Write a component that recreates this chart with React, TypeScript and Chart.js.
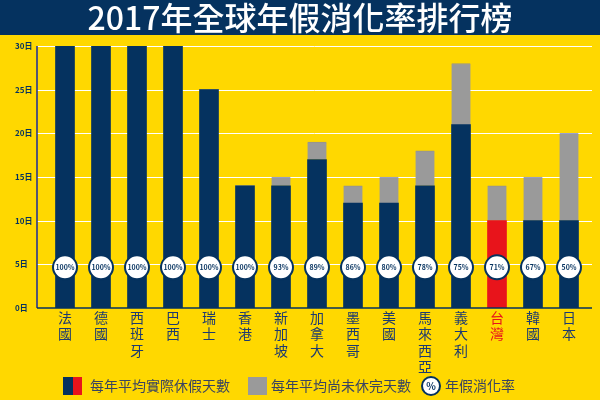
import React, { useEffect, useRef } from "react";
import { Chart, registerables } from "chart.js";

Chart.register(...registerables);

const titleText = "2017年全球年假消化率排行榜";
const categories = ["法國", "德國", "西班牙", "巴西", "瑞士", "香港", "新加坡", "加拿大", "墨西哥", "美國", "馬來西亞", "義大利", "台灣", "韓國", "日本"];
const actualDays = [30, 30, 30, 30, 25, 14, 14, 17, 12, 12, 14, 21, 10, 10, 10];
const totalDays = [30, 30, 30, 30, 25, 14, 15, 19, 14, 15, 18, 28, 14, 15, 20];
const usageRates = [100, 100, 100, 100, 100, 100, 93, 89, 86, 80, 78, 75, 71, 67, 50];
const highlightCategory = "台灣";
const yMax = 30;
const yStep = 5;
const tickSuffix = "日";
const legendLabels = ["每年平均實際休假天數", "每年平均尚未休完天數", "年假消化率"];
const rateMarkerValue = 5;

const NAVY = "#05325f";
const YELLOW = "#ffd800";
const GRAY = "#9a9a9a";
const RED = "#e8141b";
const FONT = '"Noto Sans CJK TC", "Noto Sans", sans-serif';
const AXIS_LEFT = 37;
const AXIS_RIGHT = 592;

export default function App() {
  const ref = useRef<HTMLCanvasElement | null>(null);

  useEffect(() => {
    document.body.style.margin = "0";
    const canvas = ref.current!;
    const unusedDays = totalDays.map((t, i) => t - actualDays[i]);

    const bgPlugin = {
      id: "bg",
      beforeDraw(chart: any) {
        const ctx = chart.ctx;
        ctx.save();
        ctx.fillStyle = YELLOW;
        ctx.fillRect(0, 0, chart.width, chart.height);
        ctx.fillStyle = NAVY;
        ctx.fillRect(0, 0, chart.width, 35);
        ctx.fillStyle = "#ffffff";
        ctx.font = `500 32px ${FONT}`;
        ctx.textAlign = "center";
        ctx.textBaseline = "middle";
        ctx.fillText(titleText, chart.width / 2, 18);
        ctx.restore();
      },
      beforeDatasetsDraw(chart: any) {
        const ctx = chart.ctx;
        const ys = chart.scales.y;
        ctx.save();
        ctx.strokeStyle = "#ffffff";
        ctx.lineWidth = 1;
        for (let v = yStep; v <= yMax; v += yStep) {
          const y = Math.round(ys.getPixelForValue(v)) + 0.5;
          ctx.beginPath();
          ctx.moveTo(AXIS_LEFT, y);
          ctx.lineTo(AXIS_RIGHT, y);
          ctx.stroke();
        }
        ctx.restore();
      },
    };

    const overlayPlugin = {
      id: "overlay",
      afterDatasetsDraw(chart: any) {
        const ctx = chart.ctx;
        const xs = chart.scales.x;
        const ys = chart.scales.y;
        ctx.save();
        const y0 = ys.getPixelForValue(0);
        const yTop = ys.getPixelForValue(yMax);
        ctx.lineWidth = 1.5;
        ctx.strokeStyle = "#1b2a9a";
        ctx.beginPath();
        ctx.moveTo(AXIS_LEFT, yTop);
        ctx.lineTo(AXIS_LEFT, y0);
        ctx.stroke();
        ctx.strokeStyle = NAVY;
        ctx.beginPath();
        ctx.moveTo(AXIS_LEFT, y0);
        ctx.lineTo(AXIS_RIGHT, y0);
        ctx.stroke();

        const cy = ys.getPixelForValue(rateMarkerValue) + 3;
        usageRates.forEach((r, i) => {
          const cx = xs.getPixelForValue(i);
          ctx.beginPath();
          ctx.arc(cx, cy, 12, 0, Math.PI * 2);
          ctx.fillStyle = "#ffffff";
          ctx.fill();
          ctx.lineWidth = 2;
          ctx.strokeStyle = NAVY;
          ctx.stroke();
          ctx.fillStyle = NAVY;
          ctx.font = `bold 7px ${FONT}`;
          ctx.textAlign = "center";
          ctx.textBaseline = "middle";
          ctx.fillText(r + "%", cx, cy + 0.5);
        });
        ctx.restore();
      },
      afterDraw(chart: any) {
        const ctx = chart.ctx;
        ctx.save();
        const y = 386;
        ctx.font = `14px ${FONT}`;
        ctx.textBaseline = "middle";
        ctx.textAlign = "left";
        ctx.fillStyle = NAVY;
        ctx.fillRect(63, y - 9, 10, 18);
        ctx.fillStyle = RED;
        ctx.fillRect(73, y - 9, 9, 18);
        ctx.fillStyle = "#3a4460";
        ctx.fillText(legendLabels[0], 90, y);
        ctx.fillStyle = GRAY;
        ctx.fillRect(248, y - 9, 19, 18);
        ctx.fillStyle = "#3a4460";
        ctx.fillText(legendLabels[1], 271, y);
        ctx.beginPath();
        ctx.arc(431, y, 9, 0, Math.PI * 2);
        ctx.fillStyle = "#ffffff";
        ctx.fill();
        ctx.lineWidth = 2;
        ctx.strokeStyle = NAVY;
        ctx.stroke();
        ctx.fillStyle = NAVY;
        ctx.font = `bold 10px ${FONT}`;
        ctx.textAlign = "center";
        ctx.fillText("%", 431, y + 0.5);
        ctx.font = `14px ${FONT}`;
        ctx.textAlign = "left";
        ctx.fillStyle = "#3a4460";
        ctx.fillText(legendLabels[2], 445, y);
        ctx.restore();
      },
    };

    const chart = new Chart(canvas, {
      type: "bar",
      data: {
        labels: categories.map((c) => c.split("")),
        datasets: [
          {
            label: legendLabels[0],
            data: actualDays,
            backgroundColor: categories.map((c) => (c === highlightCategory ? RED : NAVY)),
            barThickness: 19,
          },
          {
            label: legendLabels[1],
            data: unusedDays,
            backgroundColor: GRAY,
            borderColor: "rgba(110,120,190,0.7)",
            borderWidth: { top: 1, left: 0, right: 0, bottom: 0 },
            barThickness: 19,
          },
        ],
      },
      options: {
        responsive: false,
        animation: false,
        layout: { padding: { top: 46, right: 13, left: 15, bottom: 0 } },
        plugins: { legend: { display: false }, tooltip: { enabled: false }, title: { display: false } },
        scales: {
          x: {
            stacked: true,
            grid: { display: false },
            border: { display: false },
            ticks: {
              autoSkip: false,
              maxRotation: 0,
              padding: -6,
              font: { family: FONT, size: 14, lineHeight: 1.15 },
              color: (ctx: any) => (categories[ctx.index] === highlightCategory ? RED : "#1d3a70"),
            },
            afterFit(scale: any) {
              scale.height = 92;
            },
          },
          y: {
            stacked: true,
            min: 0,
            max: yMax,
            grid: { display: false },
            border: { display: false },
            ticks: {
              stepSize: yStep,
              crossAlign: "far",
              padding: 4,
              color: NAVY,
              font: { family: FONT, size: 8, weight: "bold" },
              callback: (v: any) => v + tickSuffix,
            },
            afterFit(scale: any) {
              scale.width = 32;
            },
          },
        },
      },
      plugins: [bgPlugin, overlayPlugin],
    });
    return () => chart.destroy();
  }, []);

  return (
    <div style={{ position: "absolute", left: 0, top: 0, width: 600, height: 400 }}>
      <canvas ref={ref} width={600} height={400} />
    </div>
  );
}
